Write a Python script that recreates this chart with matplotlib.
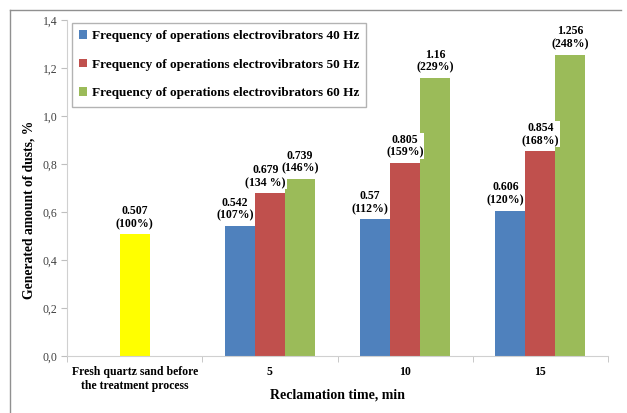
import matplotlib
matplotlib.use("Agg")
import matplotlib.pyplot as plt
from matplotlib.lines import Line2D
from matplotlib.ticker import FuncFormatter, FixedLocator
import numpy as np

plt.rcParams["font.family"] = ["Liberation Serif", "DejaVu Serif"]

categories = ["Fresh quartz sand before\nthe treatment process", "5", "10", "15"]
fresh_value = 0.507
fresh_pct = "100%"
hz40 = [0.542, 0.57, 0.606]
pct40 = ["107%", "112%", "120%"]
hz50 = [0.679, 0.805, 0.854]
pct50 = ["134 %", "159%", "168%"]
hz60 = [0.739, 1.16, 1.256]
pct60 = ["146%", "229%", "248%"]
series_names = [
    "Frequency of operations electrovibrators 40 Hz",
    "Frequency of operations electrovibrators 50 Hz",
    "Frequency of operations electrovibrators 60 Hz",
]
colors = ["#4F81BD", "#C0504D", "#9BBB59"]

W, H = 627, 413
fig = plt.figure(figsize=(W / 100, H / 100), dpi=100)
ax = fig.add_axes([67 / W, 1 - 356 / H, (608 - 67) / W, (356 - 20) / H])

bw = 30 / 135
x = np.arange(len(categories))
grp = x[1:]

def label(xc, v, pct, dx=0):
    ax.annotate(f"{v}\n({pct})", (xc, v), xytext=(dx, 3), textcoords="offset points",
                ha="center", va="bottom", fontsize=8.5, fontweight="bold",
                linespacing=1.1,
                bbox=dict(boxstyle="square,pad=0.05", fc="white", ec="none"))

ax.bar(x[0], fresh_value, width=bw, color="#FFFF00", zorder=2)
label(x[0], fresh_value, fresh_pct)

for i, (vals, pcts) in enumerate([(hz40, pct40), (hz50, pct50), (hz60, pct60)]):
    xs = grp + (i - 1) * bw
    ax.bar(xs, vals, width=bw, color=colors[i], label=series_names[i], zorder=2)
    for j in range(len(vals)):
        dx = -3.5 if i == 0 else 0
        if i == 1 and j == 0:
            dx = -3
        label(xs[j], vals[j], pcts[j], dx)

ax.set_xlim(-0.5, len(categories) - 0.5)
ax.set_ylim(0, 1.4)
ax.set_yticks(np.arange(0, 1.41, 0.2))
ax.yaxis.set_major_formatter(FuncFormatter(lambda v, p: f"{v:.1f}".replace(".", ",")))
ax.set_xticks(x)
ax.set_xticklabels(categories, fontsize=8.5, fontweight="bold")
ax.xaxis.set_minor_locator(FixedLocator(np.arange(-0.5, len(categories), 1.0)))
ax.tick_params(axis="x", which="major", length=0, pad=7)
ax.tick_params(axis="x", which="minor", length=4, color="#bfbfbf")
ax.tick_params(axis="y", length=4, color="#bfbfbf", labelsize=8.5, labelcolor="#404040", pad=3)

for s in ["top", "right"]:
    ax.spines[s].set_visible(False)
for s in ["left", "bottom"]:
    ax.spines[s].set_color("#d0d0d0")

ax.set_ylabel("Generated amount of dusts, %", fontsize=9.8, fontweight="bold")
ax.yaxis.set_label_coords(-0.058, 0.435)
ax.set_xlabel("Reclamation time, min", fontsize=10, fontweight="bold")
ax.xaxis.set_label_coords(0.5, -0.097)

leg = ax.legend(loc="upper left", bbox_to_anchor=(0.009, 0.991), borderaxespad=0,
                prop=dict(size=9.5, weight="bold"), handlelength=0.6, handleheight=0.6,
                handletextpad=0.35, labelspacing=1.25, borderpad=0.55,
                fancybox=False, frameon=True, edgecolor="#a0a0a0")
leg.get_frame().set_linewidth(1.0)

fig.add_artist(Line2D([10 / W, 10 / W], [0, 1 - 10 / H], transform=fig.transFigure,
                      color="#909090", lw=1))
fig.add_artist(Line2D([10 / W, 621 / W], [1 - 10 / H, 1 - 10 / H], transform=fig.transFigure,
                      color="#909090", lw=1))

fig.savefig("out.png", dpi=100)
